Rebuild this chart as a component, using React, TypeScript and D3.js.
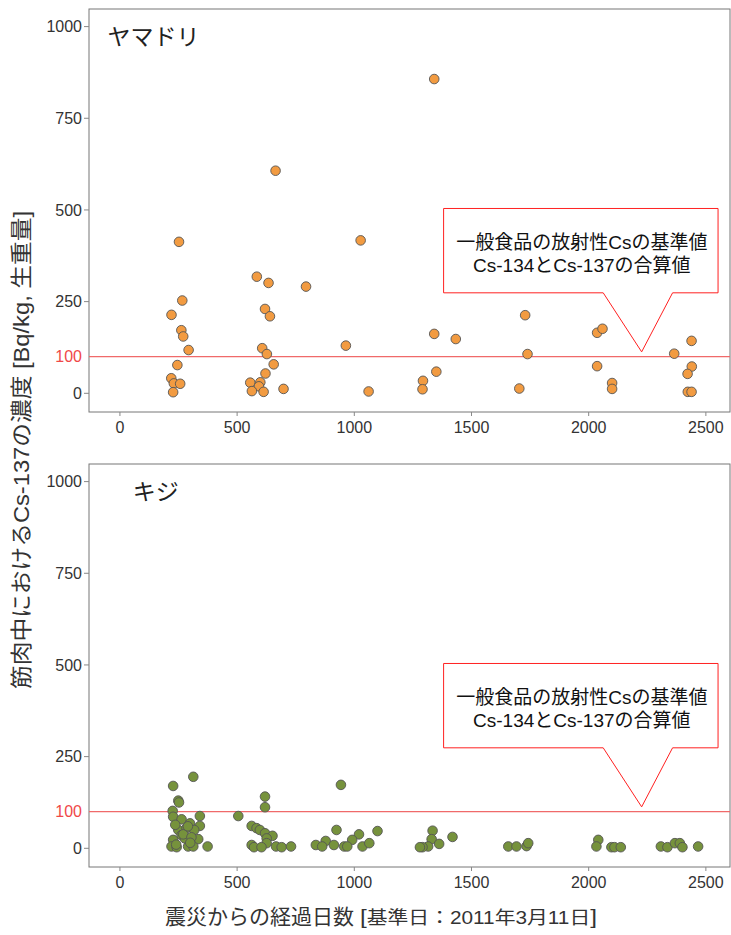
import React from "react";
import * as d3 from "d3";

// ---- data ----
const yamadoriDays = [1341, 664, 252, 1027, 584, 634, 794, 266, 220, 619, 640, 262, 270, 293, 607, 627, 964, 1341, 1433, 245, 656, 219, 621, 230, 257, 227, 556, 599, 593, 563, 613, 698, 1061, 1350, 1293, 1291, 1729, 1739, 1704, 2036, 2059, 2036, 2100, 2100, 2365, 2439, 2440, 2422, 2423, 2439];
const yamadoriValues = [857, 607, 413, 417, 318, 301, 291, 253, 214, 230, 210, 172, 155, 118, 123, 107, 130, 162, 148, 77, 79, 41, 54, 27, 26, 3, 29, 30, 19, 6, 4, 12, 5, 59, 34, 11, 213, 107, 13, 165, 176, 74, 28, 12, 108, 143, 73, 53, 4, 4];

const kijiDays = [313, 227, 249, 252, 225, 227, 341, 263, 299, 341, 249, 284, 317, 263, 277, 334, 227, 220, 242, 291, 313, 374, 236, 270, 305, 290, 240, 300, 505, 619, 619, 562, 583, 597, 619, 651, 626, 626, 562, 572, 604, 666, 690, 730, 943, 924, 1099, 1020, 991, 878, 836, 863, 913, 957, 970, 1035, 1064, 1334, 1330, 1419, 1362, 1315, 1291, 1280, 1657, 1692, 1735, 1742, 2041, 2033, 2097, 2110, 2137, 2308, 2336, 2368, 2389, 2400, 2467];
const kijiValues = [195, 170, 130, 125, 102, 86, 88, 79, 68, 61, 50, 55, 50, 36, 27, 25, 23, 5, 3, 5, 5, 5, 64, 38, 30, 60, 10, 15, 88, 141, 112, 61, 55, 50, 41, 34, 27, 14, 9, 3, 3, 5, 3, 5, 173, 50, 47, 38, 23, 20, 9, 5, 9, 5, 5, 5, 14, 48, 25, 31, 12, 5, 3, 3, 5, 5, 6, 14, 23, 5, 3, 3, 3, 5, 3, 14, 14, 3, 5];

const xTicks = [0, 500, 1000, 1500, 2000, 2500];
const yTicks = [0, 250, 500, 750, 1000];
const limitValue = 100;
const calloutLines = ["一般食品の放射性Csの基準値", "Cs-134とCs-137の合算値"];
// callout shape in data units: box [x0,x1] x [yBottom,yTop], pointer base x, tip
const calloutBoxDays = [1381, 2552];
const calloutBoxValues = [274, 504];
const calloutPointerDays = [2062, 2226, 2358];
const calloutTipValue = 113;

const panels = [
  { name: "ヤマドリ", days: yamadoriDays, values: yamadoriValues, fill: "#F29B41", top: 9, labelDay: 143 },
  { name: "キジ", days: kijiDays, values: kijiValues, fill: "#76923C", top: 464, labelDay: 153 },
];

const W = 731;
const H = 935;
const LEFT = 89;
const RIGHT = 730;
const PH = 403;
const NUM_FONT = "'Liberation Sans', Arial, sans-serif";
const JP_FONT = "'Noto Sans CJK JP', 'Noto Sans', sans-serif";
const MIX_FONT = "'Liberation Sans', Arial, 'Noto Sans CJK JP', sans-serif";

const x = d3.scaleLinear().domain([-132, 2603]).range([LEFT, RIGHT]);

function Panel({ p }: { p: (typeof panels)[number] }) {
  const y = d3.scaleLinear().domain([-51, 1048]).range([p.top + PH, p.top]);
  const [bx0, bx1] = calloutBoxDays.map((d) => x(d));
  const [byb, byt] = calloutBoxValues.map((v) => y(v));
  const [pl, pt, pr] = calloutPointerDays.map((d) => x(d));
  const tipY = y(calloutTipValue);
  const path = `M${bx0},${byt}L${bx1},${byt}L${bx1},${byb}L${pr},${byb}L${pt},${tipY}L${pl},${byb}L${bx0},${byb}Z`;
  const cx = (bx0 + bx1) / 2 + 1;
  return (
    <g>
      <rect x={LEFT} y={p.top} width={RIGHT - LEFT} height={PH} fill="white" stroke="#777" strokeWidth={1} />
      {yTicks.map((t) => (
        <g key={t}>
          <line x1={LEFT - 5} x2={LEFT} y1={y(t)} y2={y(t)} stroke="#888" />
          <text x={LEFT - 7} y={y(t)} dy="0.36em" textAnchor="end" fontFamily={NUM_FONT} fontSize={16} fill="#333">
            {t}
          </text>
        </g>
      ))}
      <text x={LEFT - 7} y={y(limitValue)} dy="0.36em" textAnchor="end" fontFamily={NUM_FONT} fontSize={16} fill="#F04848">
        {limitValue}
      </text>
      {xTicks.map((t) => (
        <g key={t}>
          <line x1={x(t)} x2={x(t)} y1={p.top + PH} y2={p.top + PH + 4} stroke="#888" />
          <text x={x(t)} y={p.top + PH + 21} textAnchor="middle" fontFamily={NUM_FONT} fontSize={16} fill="#333">
            {t}
          </text>
        </g>
      ))}
      <line x1={LEFT} x2={RIGHT} y1={y(limitValue)} y2={y(limitValue)} stroke="#F06A6A" strokeWidth={1.2} />
      {p.days.map((d, i) => (
        <circle key={i} cx={x(d)} cy={y(p.values[i])} r={4.8} fill={p.fill} stroke="#555" strokeWidth={0.9} />
      ))}
      <path d={path} fill="white" stroke="#FF2020" strokeWidth={1} />
      {calloutLines.map((l, i) => (
        <text key={i} x={cx} y={byt + 41 + i * 23} textAnchor="middle" fontFamily={MIX_FONT} fontSize={19} fill="#111">
          {l}
        </text>
      ))}
      <text x={x(p.labelDay)} y={p.top + 36} textAnchor="middle" fontFamily={JP_FONT} fontSize={23} fill="#222">
        {p.name}
      </text>
    </g>
  );
}

export default function App() {
  return (
    <svg width={W} height={H} style={{ position: "absolute", left: 0, top: 0, background: "white" }}>
      <rect width={W} height={H} fill="white" />
      {panels.map((p) => (
        <Panel key={p.name} p={p} />
      ))}
      <text
        transform="translate(22,450) rotate(-90)"
        textAnchor="middle"
        dominantBaseline="central"
        fontFamily={MIX_FONT}
        fontSize={21.5}
        fill="#333"
        textLength={478}
        lengthAdjust="spacingAndGlyphs"
      >
        筋肉中におけるCs-137の濃度 [Bq/kg, 生重量]
      </text>
      <text x={165} y={924} fontFamily={JP_FONT} fontSize={21} fill="#333" textLength={189} lengthAdjust="spacingAndGlyphs">
        震災からの経過日数
      </text>
      <text x={360} y={924} fontFamily={MIX_FONT} fontSize={18} fill="#333" textLength={237} lengthAdjust="spacingAndGlyphs">
        <tspan fontSize={21}>[</tspan>基準日：2011年3月11日<tspan fontSize={21}>]</tspan>
      </text>
    </svg>
  );
}
